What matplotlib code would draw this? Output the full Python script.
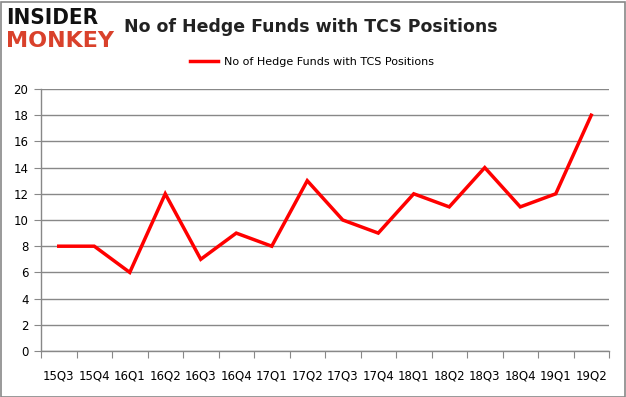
import matplotlib
matplotlib.use("Agg")
import matplotlib.pyplot as plt
from matplotlib.patches import Rectangle

quarters = ["15Q3", "15Q4", "16Q1", "16Q2", "16Q3", "16Q4", "17Q1", "17Q2",
            "17Q3", "17Q4", "18Q1", "18Q2", "18Q3", "18Q4", "19Q1", "19Q2"]
funds = [8, 8, 6, 12, 7, 9, 8, 13, 10, 9, 12, 11, 14, 11, 12, 18]
yticks = list(range(0, 21, 2))

W, H = 626, 397
fig = plt.figure(figsize=(W / 100, H / 100), dpi=100)
fig.patch.set_facecolor("white")

# outer border
fig.add_artist(Rectangle((0.5 / W, 0.5 / H), 1 - 2 / W, 1 - 2 / H, transform=fig.transFigure,
                         fill=False, edgecolor="#888888", linewidth=1.2))

ax = fig.add_axes([41 / W, 1 - 351 / H, (609 - 41) / W, (351 - 89) / H])
x = list(range(len(quarters)))
ax.plot(x, funds, color="#ff0000", linewidth=2.5, label="No of Hedge Funds with TCS Positions",
        solid_joinstyle="miter")
ax.set_xlim(-0.5, len(quarters) - 0.5)
ax.set_ylim(0, 20)
ax.set_yticks(yticks)
ax.set_yticklabels([str(v) for v in yticks], fontsize=8.5, family="DejaVu Sans")
ax.set_xticks([i - 0.5 for i in range(len(quarters) + 1)])
ax.set_xticklabels([])
ax.set_xticks(x, minor=True)
ax.set_xticklabels(quarters, minor=True, fontsize=8.5)
ax.tick_params(axis="x", which="minor", length=0, pad=13)
ax.tick_params(axis="x", which="major", length=5, color="#888888", direction="out")
ax.tick_params(axis="y", length=5, color="#888888", direction="out", pad=4)
ax.grid(axis="y", color="#888888", linewidth=1)
ax.set_axisbelow(True)
for s in ["top", "right"]:
    ax.spines[s].set_visible(False)
for s in ["left", "bottom"]:
    ax.spines[s].set_color("#888888")
    ax.spines[s].set_linewidth(1)

fig.text(311 / W, 1 - 27 / H, "No of Hedge Funds with TCS Positions", ha="center", va="center",
         fontsize=12.5, fontweight="bold", color="#222222")
leg = fig.legend(loc="center", bbox_to_anchor=(312 / W, 1 - 62 / H), frameon=False, fontsize=8,
                 handlelength=2.5, handletextpad=0.6)

fig.text(6 / W, 1 - 18 / H, "INSIDER", ha="left", va="center", fontsize=16, fontweight="heavy",
         color="#111111", family="DejaVu Sans", stretch="condensed")
fig.text(6 / W, 1 - 41 / H, "MONKEY", ha="left", va="center", fontsize=16, fontweight="heavy",
         color="#d9412b", family="DejaVu Sans")

fig.savefig("out.png", dpi=100)
